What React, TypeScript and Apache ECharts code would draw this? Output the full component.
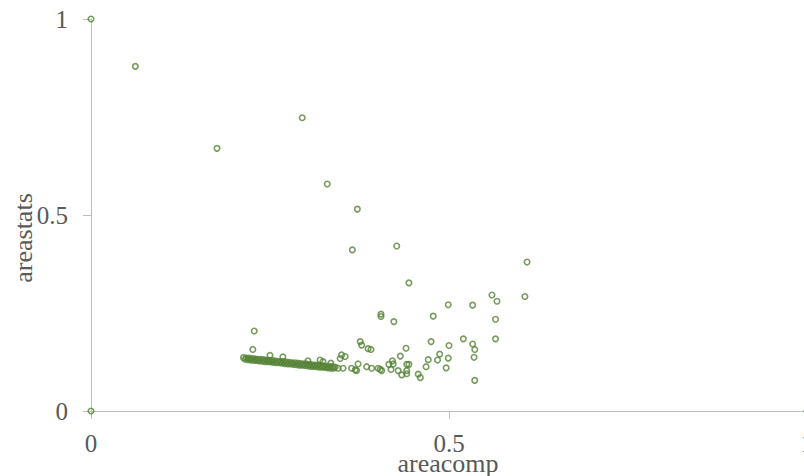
import React, { useEffect, useRef } from "react";
import * as echarts from "echarts";

// Axis tick values
const xTicks = [0, 0.5, 1];
const yTicks = [0, 0.5, 1];

// Axis titles
const xTitle = "areacomp";
const yTitle = "areastats";

// Isolated points: [areacomp, areastats]
const outliers: [number, number][] = [
  [0, 1.0], [0.062, 0.879], [0.176, 0.670], [0.295, 0.748], [0.330, 0.579],
  [0.372, 0.515], [0.365, 0.411], [0.427, 0.421], [0.444, 0.327], [0.609, 0.380],
  [0, 0], [1, 0],
];

// Right-hand scattered cloud
const cloud: [number, number][] = [
  [0.560, 0.296], [0.567, 0.280], [0.606, 0.292], [0.499, 0.271], [0.533, 0.270],
  [0.405, 0.247], [0.405, 0.241], [0.478, 0.242], [0.423, 0.228], [0.565, 0.234],
  [0.475, 0.177], [0.520, 0.184], [0.565, 0.184], [0.500, 0.167], [0.533, 0.171],
  [0.536, 0.157], [0.440, 0.160], [0.487, 0.145], [0.432, 0.140], [0.471, 0.131],
  [0.499, 0.135], [0.484, 0.130], [0.535, 0.137], [0.421, 0.128], [0.416, 0.119],
  [0.422, 0.120], [0.441, 0.119], [0.444, 0.119], [0.468, 0.113], [0.496, 0.110],
  [0.419, 0.106], [0.429, 0.103], [0.441, 0.103], [0.406, 0.103], [0.441, 0.095],
  [0.434, 0.092], [0.457, 0.094], [0.460, 0.085], [0.536, 0.078], [0.391, 0.157],
  [0.392, 0.109], [0.401, 0.109], [0.404, 0.106], [0.376, 0.177], [0.378, 0.168],
  [0.387, 0.159], [0.350, 0.143], [0.348, 0.134], [0.355, 0.139], [0.345, 0.109],
  [0.352, 0.109], [0.364, 0.109], [0.369, 0.105], [0.371, 0.103], [0.373, 0.120],
  [0.385, 0.113], [0.228, 0.204], [0.226, 0.157], [0.250, 0.142], [0.268, 0.138],
  [0.320, 0.130], [0.324, 0.126], [0.335, 0.122], [0.303, 0.128],
];

// Dense band, upper edge
const bandUpper: [number, number][] = [
  [0.213, 0.136], [0.217, 0.135], [0.221, 0.135], [0.225, 0.134], [0.229, 0.133],
  [0.233, 0.132], [0.237, 0.132], [0.241, 0.131], [0.245, 0.130], [0.249, 0.129],
  [0.253, 0.129], [0.257, 0.128], [0.261, 0.127], [0.265, 0.126], [0.269, 0.126],
  [0.273, 0.125], [0.277, 0.124], [0.281, 0.123], [0.285, 0.123], [0.289, 0.122],
  [0.293, 0.121], [0.297, 0.120], [0.301, 0.120], [0.305, 0.119], [0.309, 0.118],
  [0.313, 0.117], [0.317, 0.117], [0.321, 0.116], [0.325, 0.115], [0.329, 0.114],
  [0.333, 0.114], [0.337, 0.113], [0.341, 0.112],
];

// Dense band, lower edge
const bandLower: [number, number][] = [
  [0.215, 0.132], [0.219, 0.131], [0.223, 0.130], [0.227, 0.129], [0.231, 0.129],
  [0.235, 0.128], [0.239, 0.127], [0.243, 0.126], [0.247, 0.126], [0.251, 0.125],
  [0.255, 0.124], [0.259, 0.123], [0.263, 0.123], [0.267, 0.122], [0.271, 0.121],
  [0.275, 0.120], [0.279, 0.120], [0.283, 0.119], [0.287, 0.118], [0.291, 0.117],
  [0.295, 0.117], [0.299, 0.116], [0.303, 0.115], [0.307, 0.114], [0.311, 0.114],
  [0.315, 0.113], [0.319, 0.112], [0.323, 0.112], [0.327, 0.111], [0.331, 0.110],
  [0.335, 0.109], [0.339, 0.109],
];

const GREEN = "#548235";
const AXIS = "#bfbfbf";
const TEXT = "#595959";
const FONT = "'Liberation Serif', 'Times New Roman', serif";

export default function App() {
  const ref = useRef<HTMLDivElement>(null);
  useEffect(() => {
    if (!ref.current) return;
    const chart = echarts.init(ref.current, undefined, { renderer: "svg" });
    const data = [...outliers, ...cloud, ...bandUpper, ...bandLower];
    chart.setOption({
      animation: false,
      backgroundColor: "#ffffff",
      grid: {
        left: 91,
        top: 19,
        width: 716,
        height: 392,
        containLabel: false,
        outerBoundsMode: "none",
      },
      xAxis: {
        type: "value",
        min: xTicks[0],
        max: xTicks[xTicks.length - 1],
        interval: 0.5,
        axisLine: { show: true, lineStyle: { color: AXIS, width: 1 } },
        axisTick: { show: true, length: 8, lineStyle: { color: AXIS } },
        axisLabel: { fontFamily: FONT, fontSize: 25, lineHeight: 20, color: TEXT, margin: 22 },
        splitLine: { show: false },
      },
      yAxis: {
        type: "value",
        min: yTicks[0],
        max: yTicks[yTicks.length - 1],
        interval: 0.5,
        axisLine: { show: true, lineStyle: { color: AXIS, width: 1 } },
        axisTick: { show: true, length: 8, lineStyle: { color: AXIS } },
        axisLabel: { fontFamily: FONT, fontSize: 25, color: TEXT, margin: 23 },
        splitLine: { show: false },
      },
      graphic: [
        {
          type: "text",
          x: 448,
          y: 463,
          style: {
            text: xTitle,
            fontFamily: FONT,
            fontSize: 26,
            lineHeight: 20,
            fill: TEXT,
            align: "center",
            verticalAlign: "middle",
          },
        },
        {
          type: "text",
          x: 23,
          y: 238,
          rotation: Math.PI / 2,
          style: {
            text: yTitle,
            fontFamily: FONT,
            fontSize: 26,
            fill: TEXT,
            align: "center",
            verticalAlign: "middle",
          },
        },
      ],
      series: [
        {
          type: "scatter",
          data,
          symbol: "circle",
          symbolSize: 5.5,
          clip: false,
          itemStyle: { color: "rgba(0,0,0,0)", borderColor: GREEN, borderWidth: 1.6 },
          emphasis: { disabled: true },
        },
      ],
    });
    return () => chart.dispose();
  }, []);
  return (
    <div
      ref={ref}
      style={{ position: "absolute", left: 0, top: 0, width: 804, height: 476, background: "#fff" }}
    />
  );
}
